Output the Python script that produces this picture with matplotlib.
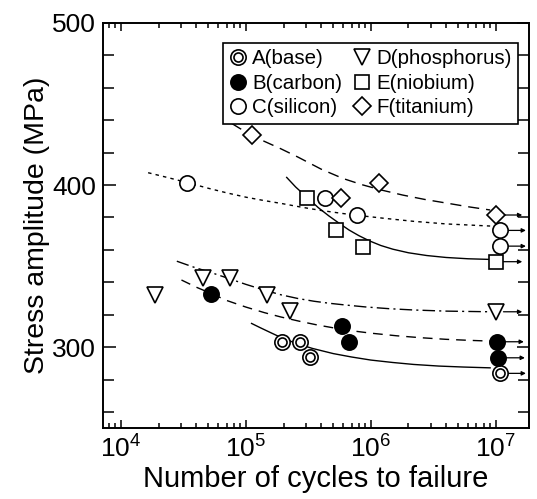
import matplotlib
matplotlib.use("Agg")
import matplotlib.pyplot as plt
from matplotlib.lines import Line2D
from matplotlib.transforms import ScaledTranslation
from matplotlib.ticker import FixedLocator, LogLocator, NullFormatter, FixedFormatter

plt.rcParams['font.family'] = ['Liberation Sans', 'DejaVu Sans']
plt.rcParams['mathtext.fontset'] = 'custom'
plt.rcParams['mathtext.rm'] = 'Liberation Sans'
plt.rcParams['mathtext.it'] = 'Liberation Sans'
plt.rcParams['mathtext.bf'] = 'Liberation Sans:bold'

# ---------------- data ----------------
labels = ["A(base)", "B(carbon)", "C(silicon)", "D(phosphorus)", "E(niobium)", "F(titanium)"]

A_x = [1.96e5, 2.7e5, 3.25e5, 1.07e7]
A_y = [303.3, 303.3, 293.6, 283.8]
B_x = [5.3e4, 5.9e5, 6.7e5, 1.03e7, 1.05e7]
B_y = [333, 313, 303.3, 303.3, 293.4]
C_x = [3.4e4, 4.3e5, 7.7e5, 1.07e7, 1.07e7]
C_y = [401, 391.8, 381.5, 372, 362.3]
D_x = [1.87e4, 4.55e4, 7.45e4, 1.47e5, 2.25e5, 1.0e7]
D_y = [332, 342.4, 342.4, 332, 322.4, 321.8]
E_x = [3.1e5, 5.25e5, 8.7e5, 1.0e7]
E_y = [391.8, 372, 362, 352.7]
F_x = [1.11e5, 5.8e5, 1.16e6, 1.0e7]
F_y = [431, 391.8, 401, 381.5]

# runouts (arrows) at ~1e7 cycles
run_x = [1.0e7, 1.07e7, 1.07e7, 1.0e7, 1.0e7, 1.03e7, 1.05e7, 1.07e7]
run_y = [381.5, 372, 362.3, 352.7, 321.8, 303.3, 293.4, 283.8]

# fitted curves
cA_x = [1.11e5, 1.3e5, 1.6e5, 2.0e5, 2.6e5, 3.4e5, 5e5, 7e5, 1e6, 1.5e6, 2.2e6, 3.5e6, 5.5e6, 9e6]
cA_y = [314.6, 312.0, 308.7, 305.2, 302.0, 299.2, 296.0, 293.9, 292.0, 290.5, 289.3, 288.3, 287.7, 287.2]
cB_x = [3.05e4, 4e4, 5.3e4, 7e4, 1e5, 1.4e5, 1.9e5, 2.7e5, 3.7e5, 5e5, 7e5, 1e6, 1.6e6, 2.5e6, 4e6, 6e6, 9e6]
cB_y = [341.4, 337.0, 333.0, 328.8, 324.7, 321.3, 318.6, 315.9, 313.7, 311.9, 310.1, 308.6, 307.0, 305.8, 304.8, 304.2, 303.7]
cC_x = [1.65e4, 2.4e4, 3.4e4, 5e4, 7e4, 1e5, 1.4e5, 1.9e5, 2.8e5, 4e5, 6e5, 8.7e5, 1.3e6, 2.2e6, 4e6, 9e6]
cC_y = [407.6, 404.5, 401.5, 398.0, 395.2, 392.5, 390.4, 388.7, 386.3, 384.3, 382.4, 380.9, 379.4, 377.6, 376.0, 374.7]
cD_x = [2.8e4, 3.8e4, 5.5e4, 7.5e4, 1e5, 1.4e5, 1.9e5, 2.6e5, 3.5e5, 4.7e5, 6.4e5, 9e5, 1.4e6, 2.2e6, 4e6, 9e6]
cD_y = [353.0, 349.4, 345.5, 342.0, 338.7, 335.2, 332.3, 330.0, 328.3, 327.0, 325.9, 324.8, 323.7, 322.9, 322.2, 321.8]
cE_x = [2.12e5, 2.5e5, 3.1e5, 3.8e5, 4.6e5, 5.6e5, 6.7e5, 8e5, 9.7e5, 1.2e6, 1.5e6, 2e6, 2.8e6, 4e6, 6e6, 9e6]
cE_y = [404.7, 398.8, 392.2, 386.0, 381.0, 376.3, 372.2, 368.8, 365.6, 362.7, 360.4, 358.2, 356.5, 355.3, 354.5, 354.1]
cF_x = [7.7e4, 9e4, 1.1e5, 1.4e5, 1.9e5, 2.6e5, 4e5, 6e5, 8.5e5, 1.2e6, 1.8e6, 2.7e6, 4e6, 6e6, 9e6]
cF_y = [438.0, 434.8, 431.0, 427.0, 422.4, 417.3, 409.8, 404.0, 400.2, 397.0, 393.8, 391.1, 388.9, 386.6, 384.6]

xticks = [1e4, 1e5, 1e6, 1e7]
xticklabels = ["10$^4$", "10$^5$", "10$^6$", "10$^7$"]
yticks = [300, 400, 500]

# ---------------- figure ----------------
fig = plt.figure(figsize=(5.37, 4.99), dpi=100)
ax = fig.add_axes([0.192, 0.142, 0.793, 0.812])
ax.set_xscale('log')
ax.set_xlim(7.2e3, 1.84e7)
ax.set_ylim(250, 500)

lw = 1.0
ax.plot(cA_x, cA_y, color='black', lw=lw, ls='-')
ax.plot(cB_x, cB_y, color='black', lw=lw, ls=(0, (7, 5)))
ax.plot(cC_x, cC_y, color='black', lw=lw, ls=(0, (2.5, 3)))
ax.plot(cD_x, cD_y, color='black', lw=lw, ls=(0, (9, 3, 1.5, 3)))
ax.plot(cE_x, cE_y, color='black', lw=lw, ls='-')
ax.plot(cF_x, cF_y, color='black', lw=lw, ls=(0, (8, 5)))

# runout arrows
tail = ax.transData + ScaledTranslation(5.5 / 72, 0, fig.dpi_scale_trans)
tip = ax.transData + ScaledTranslation(19 / 72, 0, fig.dpi_scale_trans)
for x, y in zip(run_x, run_y):
    ax.annotate('', xy=(x, y), xycoords=tip, xytext=(x, y), textcoords=tail,
                arrowprops=dict(arrowstyle='-|>', color='black', lw=0.9,
                                mutation_scale=6, shrinkA=0, shrinkB=0))

mkw = dict(ls='none', color='black', mew=1.2, zorder=3)
hA1, = ax.plot(A_x, A_y, marker='o', ms=11, mfc='white', **mkw)
hA2, = ax.plot(A_x, A_y, marker='o', ms=6.5, mfc='white', **mkw)
hB, = ax.plot(B_x, B_y, marker='o', ms=11, mfc='black', **mkw)
hC, = ax.plot(C_x, C_y, marker='o', ms=11, mfc='white', **mkw)
hD, = ax.plot(D_x, D_y, marker='v', ms=11, mfc='white', **mkw)
hE, = ax.plot(E_x, E_y, marker='s', ms=10, mfc='white', **mkw)
hF, = ax.plot(F_x, F_y, marker='D', ms=9.5, mfc='white', **mkw)

leg = ax.legend([(hA1, hA2), hB, hC, hD, hE, hF], labels, ncol=2,
                loc='upper right', bbox_to_anchor=(0.974, 0.951), borderaxespad=0,
                fontsize=14.8, frameon=True, fancybox=False, edgecolor='black',
                handlelength=0.9, handletextpad=0.25, columnspacing=0.5,
                labelspacing=0.28, borderpad=0.3, framealpha=1)
leg.get_frame().set_linewidth(1.2)

# axes styling
for s in ax.spines.values():
    s.set_linewidth(1.4)
ax.xaxis.set_major_locator(FixedLocator(xticks))
ax.xaxis.set_major_formatter(FixedFormatter(xticklabels))
ax.xaxis.set_minor_locator(LogLocator(base=10, subs=range(2, 10), numticks=20))
ax.xaxis.set_minor_formatter(NullFormatter())
ax.yaxis.set_major_locator(FixedLocator(yticks))
ax.yaxis.set_minor_locator(FixedLocator(list(range(260, 500, 20))))
ax.tick_params(which='both', direction='in', top=True, right=True, width=1.1)
ax.tick_params(axis='y', which='major', length=9, labelsize=19, pad=5)
ax.tick_params(axis='y', which='minor', length=8)
ax.tick_params(axis='x', which='major', length=6, labelsize=19, pad=5)
ax.tick_params(axis='x', which='minor', length=3.5)

ax.set_xlabel("Number of cycles to failure", fontsize=21, labelpad=2)
ax.set_ylabel("Stress amplitude (MPa)", fontsize=20.5, labelpad=2)

fig.savefig("out.png", dpi=100)
